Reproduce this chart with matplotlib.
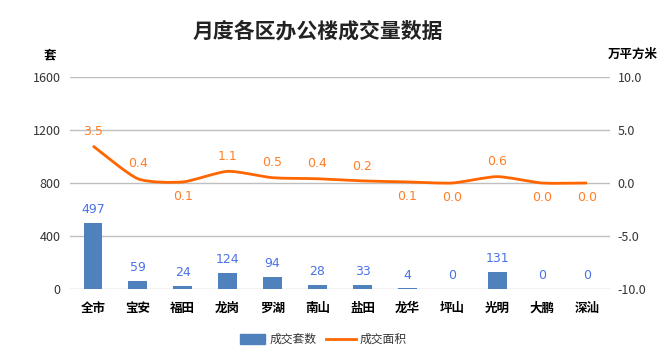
import numpy as np
import matplotlib
matplotlib.use('Agg')
import matplotlib.pyplot as plt
from matplotlib.path import Path
from matplotlib.patches import PathPatch

plt.rcParams['font.family'] = ['Noto Sans CJK SC', 'DejaVu Sans']

districts = ["全市", "宝安", "福田", "龙岗", "罗湖", "南山", "盐田", "龙华", "坪山", "光明", "大鹏", "深汕"]
units = [497, 59, 24, 124, 94, 28, 33, 4, 0, 131, 0, 0]
area = [3.5, 0.4, 0.1, 1.1, 0.5, 0.4, 0.2, 0.1, 0.0, 0.6, 0.0, 0.0]
left_ticks = [0, 400, 800, 1200, 1600]
right_ticks = [-10.0, -5.0, 0.0, 5.0, 10.0]

BAR_C = '#4F81BD'
LINE_C = '#FF6600'
BAR_LBL = '#4A72E6'
LINE_LBL = '#FF7F27'
GRID_C = '#BFBFBF'


def smooth_path(xs, ys, t=0.11):
    # smoothed line like the spreadsheet one: bezier segments
    verts = [(xs[0], ys[0])]
    codes = [Path.MOVETO]
    n = len(xs)
    for i in range(n - 1):
        p0 = (xs[max(i - 1, 0)], ys[max(i - 1, 0)])
        p1 = (xs[i], ys[i])
        p2 = (xs[i + 1], ys[i + 1])
        p3 = (xs[min(i + 2, n - 1)], ys[min(i + 2, n - 1)])
        c1 = (p1[0] + (p2[0] - p0[0]) * t, p1[1] + (p2[1] - p0[1]) * t)
        c2 = (p2[0] - (p3[0] - p1[0]) * t, p2[1] - (p3[1] - p1[1]) * t)
        verts += [c1, c2, p2]
        codes += [Path.CURVE4] * 3
    return Path(verts, codes)


fig = plt.figure(figsize=(6.6, 3.53), dpi=100)
ax = fig.add_axes([0.1068, 0.1813, 0.8167, 0.6006])
ax2 = ax.twinx()

x = np.arange(len(districts))
ax.bar(x, units, width=0.42, color=BAR_C, zorder=3)
for xi, v in zip(x, units):
    ax.annotate(str(v), (xi, v), xytext=(0, 5), textcoords='offset points',
                ha='center', va='bottom', fontsize=9, color=BAR_LBL,
                family=['DejaVu Sans'])

ax.set_ylim(0, 1600)
ax.set_yticks(left_ticks)
ax.set_xlim(-0.5, len(districts) - 0.5)
ax.set_xticks(x)
ax.set_xticklabels(districts, fontsize=9, fontweight='bold')
ax.grid(axis='y', color=GRID_C, linewidth=1, zorder=0)
ax.set_axisbelow(True)
for s in ax.spines.values():
    s.set_visible(False)
for s in ax2.spines.values():
    s.set_visible(False)
ax.tick_params(axis='both', length=0, labelsize=9, colors='#333333')
ax.tick_params(axis='x', pad=9, colors='black')
ax.tick_params(axis='y', pad=7)

ax2.set_ylim(-10, 10)
ax2.set_yticks(right_ticks)
ax2.set_yticklabels([f'{v:.1f}' for v in right_ticks])
ax2.tick_params(axis='y', length=0, labelsize=9, colors='#333333', pad=6)

ax2.add_patch(PathPatch(smooth_path(x, area), facecolor='none', edgecolor=LINE_C,
                        linewidth=2, zorder=4))
for xi, v in zip(x, area):
    below = v <= 0.1
    ax2.annotate(f'{v:.1f}', (xi, v), xytext=(0, -6 if below else 6),
                 textcoords='offset points', ha='center',
                 va='top' if below else 'bottom', fontsize=9, color=LINE_LBL,
                 family=['DejaVu Sans'])

fig.text(0.076, 0.845, '套', ha='center', va='center', fontsize=9, fontweight='bold')
fig.text(0.958, 0.845, '万平方米', ha='center', va='center', fontsize=9, fontweight='bold')
fig.text(0.482, 0.912, '月度各区办公楼成交量数据', ha='center', va='center',
         fontsize=15, fontweight='bold', color='#222222')

# legend
lx = 0.364
fig.patches.append(plt.Rectangle((lx, 0.025), 0.038, 0.028, transform=fig.transFigure,
                                 color=BAR_C))
fig.text(lx + 0.045, 0.039, '成交套数', va='center', fontsize=8.5, color='#333333')
fig.lines.append(plt.Line2D([0.494, 0.539], [0.039, 0.039], transform=fig.transFigure,
                            color=LINE_C, linewidth=2))
fig.text(0.545, 0.039, '成交面积', va='center', fontsize=8.5, color='#333333')

fig.savefig('out.png', dpi=100)
